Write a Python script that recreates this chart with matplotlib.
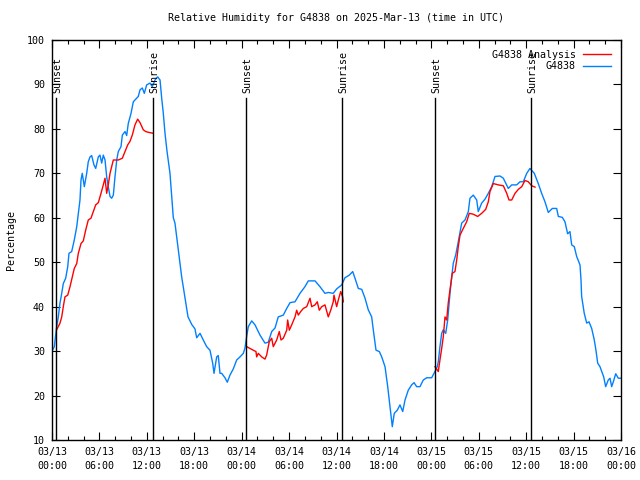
import numpy as np
import matplotlib
matplotlib.use("Agg")
import matplotlib.pyplot as plt
from matplotlib.ticker import MultipleLocator

# hours since 2025-03-13 00:00 UTC
obs_h = [0, 0.29, 0.59, 0.80, 1.01, 1.23, 1.43, 1.73, 1.99, 2.15, 2.49, 2.82, 3.13, 3.33, 3.54, 3.67,
         3.83, 4.09, 4.39, 4.59, 4.81, 5.02, 5.31, 5.53, 5.86, 6.07, 6.29, 6.49, 6.71, 6.92, 7.12, 7.34,
         7.55, 7.76, 7.97, 8.19, 8.39, 8.73, 8.90, 9.24, 9.45, 9.65, 10.0, 10.29, 10.72, 10.92, 11.14,
         11.43, 11.68, 11.98, 12.40, 12.69, 13.03, 13.37, 13.67, 13.88, 14.08, 14.30, 14.55, 14.93,
         15.15, 15.35, 15.56, 15.78, 15.98, 16.20, 16.41, 16.83, 17.21, 17.68, 18.09, 18.31, 18.73,
         19.14, 19.57, 19.99, 20.33, 20.50, 20.84, 21.04, 21.26, 21.47, 21.89, 22.18, 22.52, 22.94,
         23.37, 23.79, 24.21, 24.42, 24.64, 24.84, 25.27, 25.69, 26.32, 26.95, 27.37, 27.80, 28.22,
         28.63, 29.27, 29.70, 30.12, 30.75, 31.38, 32.01, 32.43, 33.28, 33.91, 34.54, 34.96, 35.59,
         36.02, 36.66, 37.07, 37.62, 38.05, 38.34, 38.76, 39.19, 39.61, 40.02, 40.45, 40.66, 41.00,
         41.42, 41.72, 42.14, 42.48, 42.77, 43.06, 43.31, 43.69, 44.03, 44.38, 44.67, 45.08, 45.51,
         45.81, 46.15, 46.56, 46.98, 47.41, 48.04, 48.46, 48.75, 48.88, 49.09, 49.31, 49.51, 49.82,
         50.07, 50.36, 50.58, 50.78, 51.08, 51.41, 51.84, 52.26, 52.68, 52.89, 53.31, 53.74, 53.94,
         54.37, 54.79, 55.21, 55.64, 56.06, 56.69, 57.11, 57.74, 58.17, 58.80, 59.22, 59.64, 60.07,
         60.48, 61.03, 61.53, 61.96, 62.38, 62.80, 63.31, 63.86, 64.07, 64.57, 64.91, 65.25, 65.54,
         65.76, 66.09, 66.39, 66.81, 66.94, 67.02, 67.35, 67.66, 67.95, 68.29, 68.62, 68.83, 69.05,
         69.34, 69.81, 70.06, 70.39, 70.61, 70.82, 71.03, 71.33, 71.66, 72.0]
obs_rh = [30, 31, 35.5, 37.7, 40.8, 43, 45.2, 46.4, 49, 52, 52.4, 55, 58, 61, 64, 68.5,
          70, 67, 70, 72.6, 73.7, 74, 71.9, 71.1, 73.7, 74.1, 72.3, 74.1, 73, 69.2, 67, 64.8,
          64.4, 65.1, 69.2, 73, 74.9, 76, 78.6, 79.4, 78.5, 81.2, 83.5, 86.1, 86.9, 87.3, 88.8,
          89.2, 88, 89.9, 90.3, 89.5, 91, 91.7, 91, 86.9, 83.6, 79, 75, 70,
          64.7, 60, 58.8, 55.7, 52.7, 49.8, 46.7, 42, 37.7, 36, 35, 33, 34,
          32.5, 31, 30.2, 27.3, 25, 28.7, 29, 25, 25, 24, 23, 24.6, 26,
          28, 28.7, 29.5, 30.7, 33.4, 35.5, 36.8, 35.9, 33.6, 31.8, 32, 34.4, 35.2,
          37.7, 38.1, 39.6, 40.9, 41.1, 43, 44.5, 45.8, 45.8, 44.5, 43, 43.2, 43,
          44, 44.9, 46.5, 47.1, 47.9, 46.4, 44.1, 43.9, 41.9, 39.3, 37.7, 34.7, 30.2,
          29.9, 28.7, 26.5, 22, 17.5, 13, 16, 16.7, 17.9, 16.4, 19, 21.2, 22.4,
          22.9, 22, 22, 23.5, 24, 24, 25.4, 26.5, 27.6, 31, 34, 34.8, 34,
          37, 43, 46.7, 49.8, 51.6, 54.6, 58.8, 59.5, 61.4, 64.4, 65.1, 64, 61.4,
          63.3, 64.2, 65.5, 67, 69.3, 69.4, 68.9, 66.6, 67.4, 67.4, 68.1, 68.1, 70,
          71.1, 70, 67.7, 65.5, 63.6, 61.2, 62.1, 62.1, 60.3, 60.1, 59.1, 56.4, 56.9,
          53.9, 53.5, 51.3, 49.4, 46, 42.3, 38.5, 36.3, 36.6, 35.1, 32.5, 30.2, 27.3,
          26.5, 24.2, 22, 23.5, 23.9, 22, 23.1, 24.9, 23.9, 23.9]

# analysis, three daytime pieces (nan = gap)
ana_h = [0.59, 1.01, 1.23, 1.43, 1.64, 1.99, 2.28, 2.57, 2.82, 3.13, 3.33, 3.67, 3.96, 4.26, 4.59,
         4.93, 5.23, 5.53, 5.86, 6.20, 6.49, 6.71, 6.92, 7.12, 7.34, 7.55, 7.76, 8.39, 8.90, 9.24,
         9.58, 9.87, 10.16, 10.50, 10.84, 11.14, 11.55, 11.86, 12.27, 12.82,
         18.0,
         24.64, 25.05, 25.47, 25.81, 25.90, 26.10, 26.53, 26.95, 27.16, 27.49, 27.80, 28.00, 28.43,
         28.76, 28.98, 29.27, 29.70, 29.82, 30.03, 30.33, 30.75, 30.96, 31.17, 31.47, 31.80, 32.23,
         32.65, 32.86, 33.28, 33.57, 33.82, 34.13, 34.54, 34.96, 35.27, 35.59, 35.68, 36.02, 36.23,
         36.53, 36.78, 36.86,
         42.0,
         48.46, 48.88, 49.09, 49.31, 49.51, 49.73, 49.94, 50.14, 50.36, 50.65, 50.99, 51.21, 51.41,
         51.63, 52.04, 52.47, 52.80, 53.31, 53.87, 54.37, 54.88, 55.21, 55.42, 55.84, 56.48, 57.11,
         57.54, 57.83, 58.17, 58.59, 59.01, 59.44, 59.85, 60.27, 60.70, 61.12]
ana_rh = [34.8, 36.3, 37.7, 40, 42.2, 42.6, 44.5, 46.7, 48.6, 49.7, 52, 54.2, 54.8, 57.2, 59.5,
          59.9, 61.4, 62.9, 63.4, 65.5, 67.4, 68.9, 65.5, 67.4, 70, 71.5, 73, 73, 73.4, 74.9,
          76.4, 77.2, 78.6, 80.9, 82.2, 81.4, 79.8, 79.4, 79.2, 79,
          np.nan,
          31, 30.6, 30.2, 29.9, 28.7, 29.5, 28.7, 28.2, 29.1, 32.1, 32.9, 31, 32.5,
          34.4, 32.5, 32.9, 34.7, 37, 34.7, 35.9, 37.7, 39.2, 38.1, 38.9, 39.6, 40,
          41.9, 40, 40.4, 41.1, 39.2, 40, 40.4, 37.7, 39.2, 41.1, 42.6, 40, 41.5,
          43.4, 42.2, 41.1,
          np.nan,
          26.5, 25.4, 28, 30.6, 33.2, 37.7, 37, 40.8, 43.8, 47.5, 47.9, 50.5, 53.5,
          56.1, 57.6, 59.1, 61, 60.8, 60.3, 61, 61.9, 63.6, 65.9, 67.7, 67.4, 67.2,
          65.5, 64, 64, 65.5, 66.4, 67, 68.4, 68.1, 67.2, 66.9]

sun_h = [0.5, 12.78, 24.55, 36.7, 48.46, 60.6]
sun_lbl = ["Sunset", "Sunrise", "Sunset", "Sunrise", "Sunset", "Sunrise"]

tick_h = list(range(0, 73, 6))
tick_lbl = ["03/13\n00:00", "03/13\n06:00", "03/13\n12:00", "03/13\n18:00",
            "03/14\n00:00", "03/14\n06:00", "03/14\n12:00", "03/14\n18:00",
            "03/15\n00:00", "03/15\n06:00", "03/15\n12:00", "03/15\n18:00",
            "03/16\n00:00"]

plt.rcParams["font.family"] = "DejaVu Sans Mono"
FS = 7.2

fig = plt.figure(figsize=(6.4, 4.8), dpi=100)
ax = fig.add_axes([52/640, 40/480, 569/640, 400/480])

ax.plot(ana_h, ana_rh, color="#ff0000", lw=1, label="G4838 Analysis", zorder=3)
ax.plot(obs_h, obs_rh, color="#0080ff", lw=1, label="G4838", zorder=2)

for h, s in zip(sun_h, sun_lbl):
    ax.plot([h, h], [10, 87], color="black", lw=1, zorder=4)
    ax.text(h + 0.15, 88, s, rotation=90, ha="center", va="bottom", fontsize=FS, zorder=5)

ax.set_xlim(0, 72)
ax.set_ylim(10, 100)
ax.set_xticks(tick_h)
ax.set_xticklabels(tick_lbl, fontsize=FS, linespacing=1.5)
ax.xaxis.set_minor_locator(MultipleLocator(2))
ax.set_yticks(range(10, 101, 10))
ax.tick_params(axis="y", labelsize=FS)
ax.tick_params(which="both", direction="in", top=True, right=True, width=0.8)
ax.tick_params(which="major", length=6, pad=5)
ax.tick_params(which="minor", length=3)
for sp in ax.spines.values():
    sp.set_linewidth(1)

ax.set_ylabel("Percentage", fontsize=FS, labelpad=8)
ax.set_title("Relative Humidity for G4838 on 2025-Mar-13 (time in UTC)", fontsize=FS, pad=14)

ax.legend(loc="upper right", frameon=False, markerfirst=False, fontsize=FS,
          handlelength=2.8, handletextpad=0.7, labelspacing=0.15, borderaxespad=0.6)

fig.savefig("out.png", dpi=100)
